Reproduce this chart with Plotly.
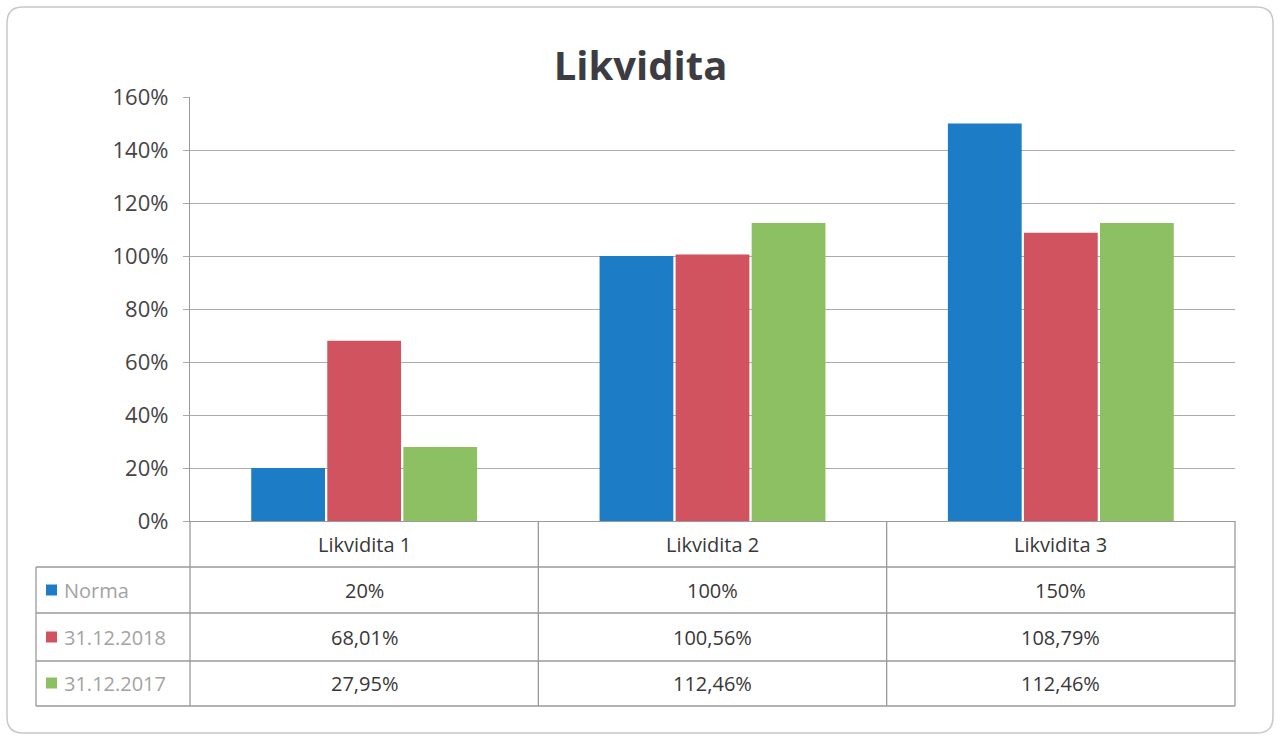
import plotly.graph_objects as go

categories = ["Likvidita 1", "Likvidita 2", "Likvidita 3"]
series_names = ["Norma", "31.12.2018", "31.12.2017"]
norma = [20, 100, 150]
y2018 = [68.01, 100.56, 108.79]
y2017 = [27.95, 112.46, 112.46]
series_values = [norma, y2018, y2017]
colors = ["#1c7cc5", "#d1535f", "#8cc062"]
y_ticks = [0, 20, 40, 60, 80, 100, 120, 140, 160]
y_ticktext = [f"{v}%" for v in y_ticks]


def fmt(v):
    if float(v).is_integer():
        return f"{int(v)}%"
    return f"{v:.2f}".replace(".", ",") + "%"


W, H = 1281, 745
L, R, T, B = 190, 1235, 97, 521


def px2x(px):
    return (px - L) / (R - L)


def py2y(py):
    return (B - py) / (B - T)


fig = go.Figure()
for name, vals, col in zip(series_names, series_values, colors):
    fig.add_trace(go.Bar(x=categories, y=vals, name=name, marker_color=col,
                         marker_line_width=0))

grid = "#ababab"
line_col = "#9a9a9a"
shapes = []
# outer rounded border
x0, x1 = px2x(7), px2x(1273)
y0, y1 = py2y(733), py2y(7)
rx, ry = 16 / (R - L), 16 / (B - T)
path = (f"M {x0+rx},{y0} L {x1-rx},{y0} Q {x1},{y0} {x1},{y0+ry} "
        f"L {x1},{y1-ry} Q {x1},{y1} {x1-rx},{y1} L {x0+rx},{y1} "
        f"Q {x0},{y1} {x0},{y1-ry} L {x0},{y0+ry} Q {x0},{y0} {x0+rx},{y0} Z")
shapes.append(dict(type="path", xref="paper", yref="paper", path=path,
                   line=dict(color="#c8c8c8", width=1.5)))

# table horizontal lines
row_lines = [567, 613, 661, 706]
for py in row_lines:
    shapes.append(dict(type="line", xref="paper", yref="paper",
                       x0=px2x(36), x1=1, y0=py2y(py), y1=py2y(py),
                       line=dict(color=line_col, width=1.3)))
# vertical lines at category boundaries
n = len(categories)
for i in range(n + 1):
    shapes.append(dict(type="line", xref="paper", yref="paper",
                       x0=i / n, x1=i / n, y0=0, y1=py2y(706),
                       line=dict(color=line_col, width=1.3)))
shapes.append(dict(type="line", xref="paper", yref="paper",
                   x0=px2x(36), x1=px2x(36), y0=py2y(567), y1=py2y(706),
                   line=dict(color=line_col, width=1.3)))

annotations = []
txt_col = "#383838"
for i, c in enumerate(categories):
    annotations.append(dict(xref="paper", yref="paper", x=(i + 0.5) / n,
                            y=py2y(544), text=c, showarrow=False,
                            xanchor="center", yanchor="middle",
                            font=dict(size=20, color=txt_col)))
row_centers = [590, 637, 683]
for r, (name, vals, col) in enumerate(zip(series_names, series_values, colors)):
    yc = py2y(row_centers[r])
    for i, v in enumerate(vals):
        annotations.append(dict(xref="paper", yref="paper", x=(i + 0.5) / n,
                                y=yc, text=fmt(v), showarrow=False,
                                xanchor="center", yanchor="middle",
                                font=dict(size=20, color=txt_col)))
    annotations.append(dict(xref="paper", yref="paper", x=px2x(62), y=yc,
                            xanchor="left", yanchor="middle", text=name,
                            showarrow=False,
                            font=dict(size=20, color="#a3a3a3")))
    shapes.append(dict(type="rect", xref="paper", yref="paper",
                       x0=px2x(46), x1=px2x(57), y0=yc - 5.5 / (B - T),
                       y1=yc + 5.5 / (B - T), fillcolor=col, line_width=0))

fig.update_layout(
    width=W, height=H,
    margin=dict(l=L, r=W - R, t=T, b=H - B),
    paper_bgcolor="white", plot_bgcolor="white",
    font=dict(family="Open Sans", color=txt_col),
    title=dict(text="<b>Likvidita</b>", x=0.5, xanchor="center",
               y=1 - 66 / H, yanchor="middle", yref="container",
               font=dict(size=40, color="#3c3c42")),
    barmode="group", bargap=0.345, bargroupgap=0.03,
    showlegend=False,
    shapes=shapes, annotations=annotations,
    xaxis=dict(showticklabels=False, showgrid=False, showline=True,
               linecolor=line_col, linewidth=1.3, ticks="", zeroline=False),
    yaxis=dict(range=[0, 160], tickvals=y_ticks, ticktext=y_ticktext,
               showgrid=True, gridcolor=grid, gridwidth=1.2,
               ticks="outside", ticklen=6, tickcolor=grid,
               showline=True, linecolor=line_col, linewidth=1.3,
               zeroline=False, ticklabelstandoff=10,
               tickfont=dict(size=22, color="#454545")),
)

fig.write_html(
    "out.html",
    config={"displayModeBar": False},
    post_script="document.body.style.margin='0';document.body.style.overflow='hidden';",
)
